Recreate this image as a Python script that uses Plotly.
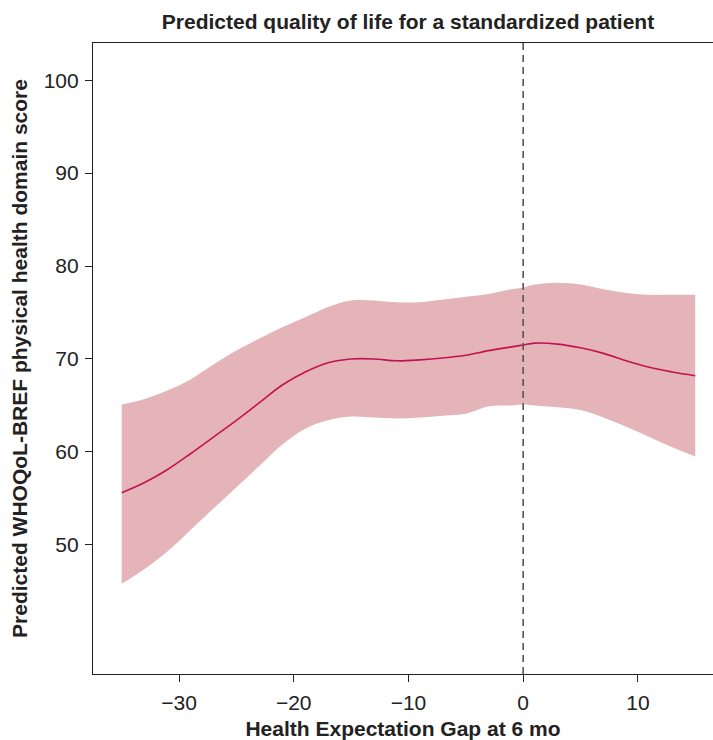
import plotly.graph_objects as go

# Health Expectation Gap at 6 mo
gap = [-35, -33, -31, -29, -27, -25, -23, -21, -19, -17, -15, -13, -11, -9, -7, -5, -3, -1, 0, 1, 3, 5, 7, 9, 11, 13, 15]
# Predicted score (central line)
pred = [55.6, 56.7, 58.1, 59.8, 61.6, 63.4, 65.3, 67.2, 68.6, 69.6, 70.0, 70.0, 69.8, 69.9, 70.1, 70.4, 70.9, 71.3, 71.5, 71.7, 71.6, 71.2, 70.6, 69.8, 69.1, 68.6, 68.2]
# Upper confidence limit
upper = [65.1, 65.7, 66.6, 67.8, 69.4, 70.9, 72.2, 73.4, 74.5, 75.6, 76.3, 76.3, 76.1, 76.1, 76.4, 76.7, 77.0, 77.5, 77.7, 78.0, 78.2, 78.0, 77.5, 77.1, 76.9, 76.9, 76.9]
# Lower confidence limit
lower = [45.8, 47.4, 49.3, 51.6, 53.9, 56.2, 58.5, 60.8, 62.5, 63.4, 63.8, 63.7, 63.6, 63.7, 63.9, 64.1, 64.9, 65.0, 65.1, 65.0, 64.8, 64.5, 63.7, 62.7, 61.6, 60.5, 59.5]

y_ticks = [50, 60, 70, 80, 90, 100]
x_ticks = [-30, -20, -10, 0, 10]
x_tick_text = ["\u221230", "\u221220", "\u221210", "0", "10"]

FILL = "#e5b4b8"
LINE = "#c2134f"
DARK = "#222222"
FONT = "Liberation Sans, Arial, sans-serif"

fig = go.Figure()
fig.add_trace(go.Scatter(x=gap, y=upper, mode="lines", line=dict(width=0, shape="spline", color=FILL),
                         showlegend=False, hoverinfo="skip"))
fig.add_trace(go.Scatter(x=gap, y=lower, mode="lines", line=dict(width=0, shape="spline", color=FILL),
                         fill="tonexty", fillcolor=FILL, showlegend=False, hoverinfo="skip"))
fig.add_trace(go.Scatter(x=gap, y=pred, mode="lines", line=dict(width=1.6, shape="spline", color=LINE),
                         showlegend=False))

fig.add_shape(type="line", xref="x", yref="paper", x0=0, x1=0, y0=0, y1=1,
              line=dict(color="#555555", width=1.6, dash="7px,5px"), layer="above")

fig.update_layout(
    width=713, height=740,
    margin=dict(l=93, r=0, t=43, b=66),
    paper_bgcolor="white", plot_bgcolor="white",
    font=dict(family=FONT, color=DARK),
    title=dict(text="<b>Predicted quality of life for a standardized patient</b>",
               x=0.5 + 5 / 620, xref="paper", xanchor="center", y=1 - 22 / 740, yanchor="middle",
               font=dict(size=21, family=FONT, color=DARK)),
    xaxis=dict(range=[-37.5, 16.55], tickvals=x_ticks, ticktext=x_tick_text,
               showgrid=False, zeroline=False, showline=True, linecolor=DARK, linewidth=1.2,
               mirror=True, ticks="outside", ticklen=7, tickcolor=DARK, tickwidth=1.2,
               ticklabelstandoff=3,
               tickfont=dict(size=21, family=FONT, color=DARK),
               title=dict(text="<b>Health Expectation Gap at 6 mo</b>", font=dict(size=21, family=FONT, color=DARK),
                          standoff=8)),
    yaxis=dict(range=[36.1, 104], tickvals=y_ticks,
               showgrid=False, zeroline=False, showline=True, linecolor=DARK, linewidth=1.2,
               mirror=False, ticks="outside", ticklen=7, tickcolor=DARK, tickwidth=1.2,
               ticklabelstandoff=2,
               tickfont=dict(size=21, family=FONT, color=DARK),
               title=dict(text="<b>Predicted WHOQoL-BREF physical health domain score</b>",
                          font=dict(size=21, family=FONT, color=DARK), standoff=10)),
)

fig.write_html("out.html")
